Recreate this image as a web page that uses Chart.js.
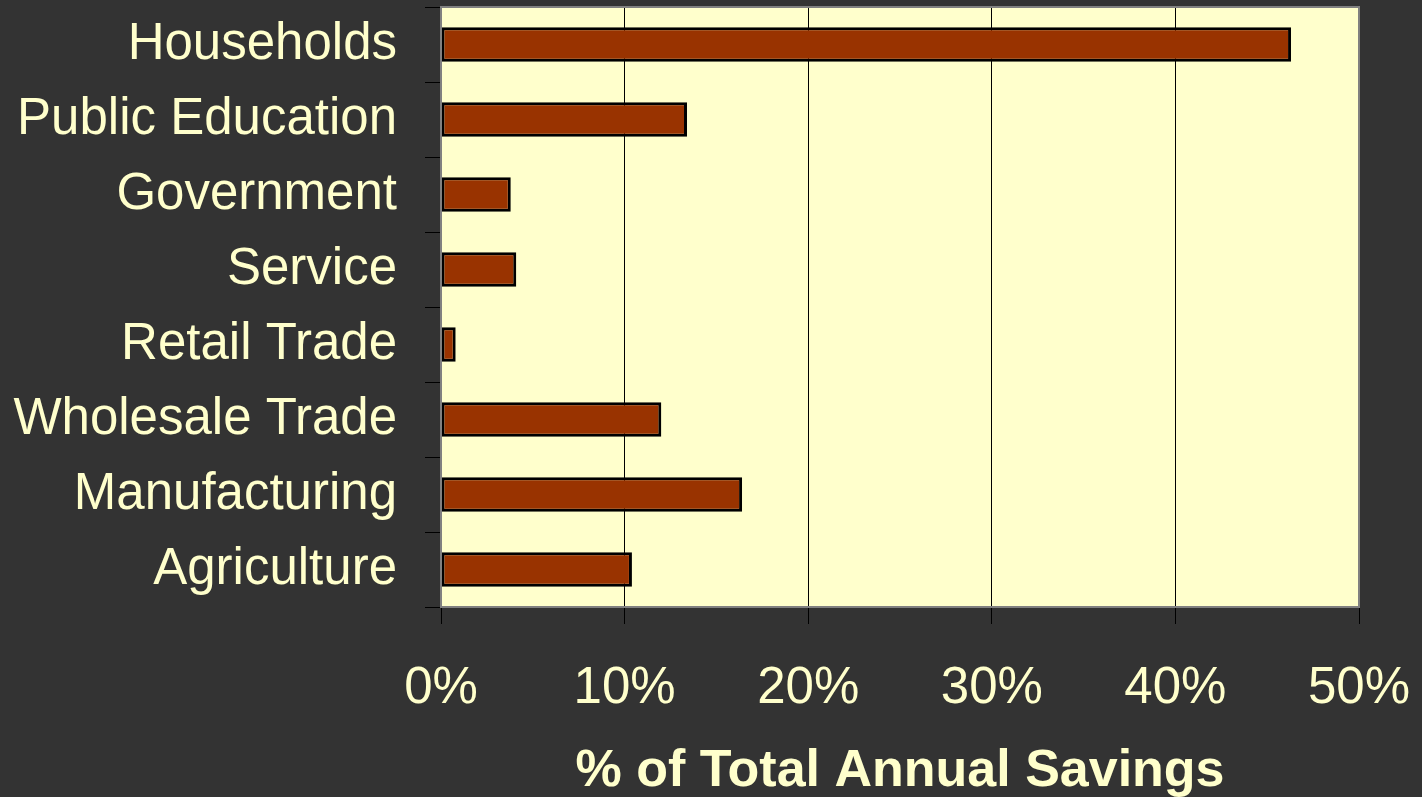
<!DOCTYPE html>
<html>
<head>
<meta charset="utf-8">
<script src="https://cdn.jsdelivr.net/npm/chart.js@4/dist/chart.umd.min.js"></script>
<style>
  html, body { margin: 0; padding: 0; background: #333333; }
  canvas { display: block; }
</style>
</head>
<body>
<canvas id="savingsChart" width="1422" height="797"></canvas>
<script>
// sectors, top to bottom
const sectors = ['Households', 'Public Education', 'Government', 'Service',
  'Retail Trade', 'Wholesale Trade', 'Manufacturing', 'Agriculture'];
const savingsPct = [46.3, 13.4, 3.8, 4.1, 0.8, 12.0, 16.4, 10.4];
const xTicks = [0, 10, 20, 30, 40, 50];

const cream = '#FFFFCC';
const fontFam = '"Liberation Sans", Arial, sans-serif';

// plot background + gray frame
const plotFrame = {
  id: 'plotFrame',
  beforeDraw(chart) {
    const { ctx, chartArea: a } = chart;
    ctx.save();
    ctx.fillStyle = cream;
    ctx.fillRect(a.left, a.top, a.right - a.left, a.bottom - a.top);
    ctx.restore();
  },
  afterDatasetsDraw(chart) {
    const { ctx, chartArea: a } = chart;
    ctx.save();
    ctx.strokeStyle = '#808080';
    ctx.lineWidth = 2;
    ctx.strokeRect(a.left, a.top, a.right - a.left, a.bottom - a.top);
    ctx.restore();
  }
};

const ctx = document.getElementById('savingsChart').getContext('2d');
new Chart(ctx, {
  type: 'bar',
  data: {
    labels: sectors,
    datasets: [{
      data: savingsPct,
      backgroundColor: '#993300',
      borderColor: '#000000',
      borderWidth: 3,
      borderSkipped: false,
      barPercentage: 0.92,
      categoryPercentage: 0.5
    }]
  },
  options: {
    indexAxis: 'y',
    responsive: false,
    animation: false,
    layout: { padding: { top: 7, right: 63, left: 0, bottom: 0 } },
    plugins: { legend: { display: false }, tooltip: { enabled: false } },
    scales: {
      x: {
        min: 0, max: 50,
        afterBuildTicks: axis => { axis.ticks = xTicks.map(v => ({ value: v })); },
        afterFit: axis => { axis.height = 190; axis.paddingLeft = 0; axis.paddingRight = 0; },
        border: { display: false },
        grid: { color: '#000000', lineWidth: 1, tickLength: 17, drawOnChartArea: true },
        ticks: {
          color: cream,
          font: { family: fontFam, size: 51 },
          padding: 34,
          maxRotation: 0,
          callback: v => v + '%'
        },
        title: {
          display: true,
          text: '% of Total Annual Savings',
          color: cream,
          font: { family: fontFam, size: 52, weight: 'bold' },
          padding: { top: 0, bottom: -6 }
        }
      },
      y: {
        afterFit: axis => { axis.width = 441; axis.paddingTop = 0; axis.paddingBottom = 0; },
        border: { display: false },
        grid: { color: '#000000', lineWidth: 1, tickLength: 16, drawOnChartArea: false, offset: true },
        ticks: {
          color: cream,
          font: { family: fontFam, size: 51 },
          padding: 28
        }
      }
    }
  },
  plugins: [plotFrame]
});
</script>
</body>
</html>
